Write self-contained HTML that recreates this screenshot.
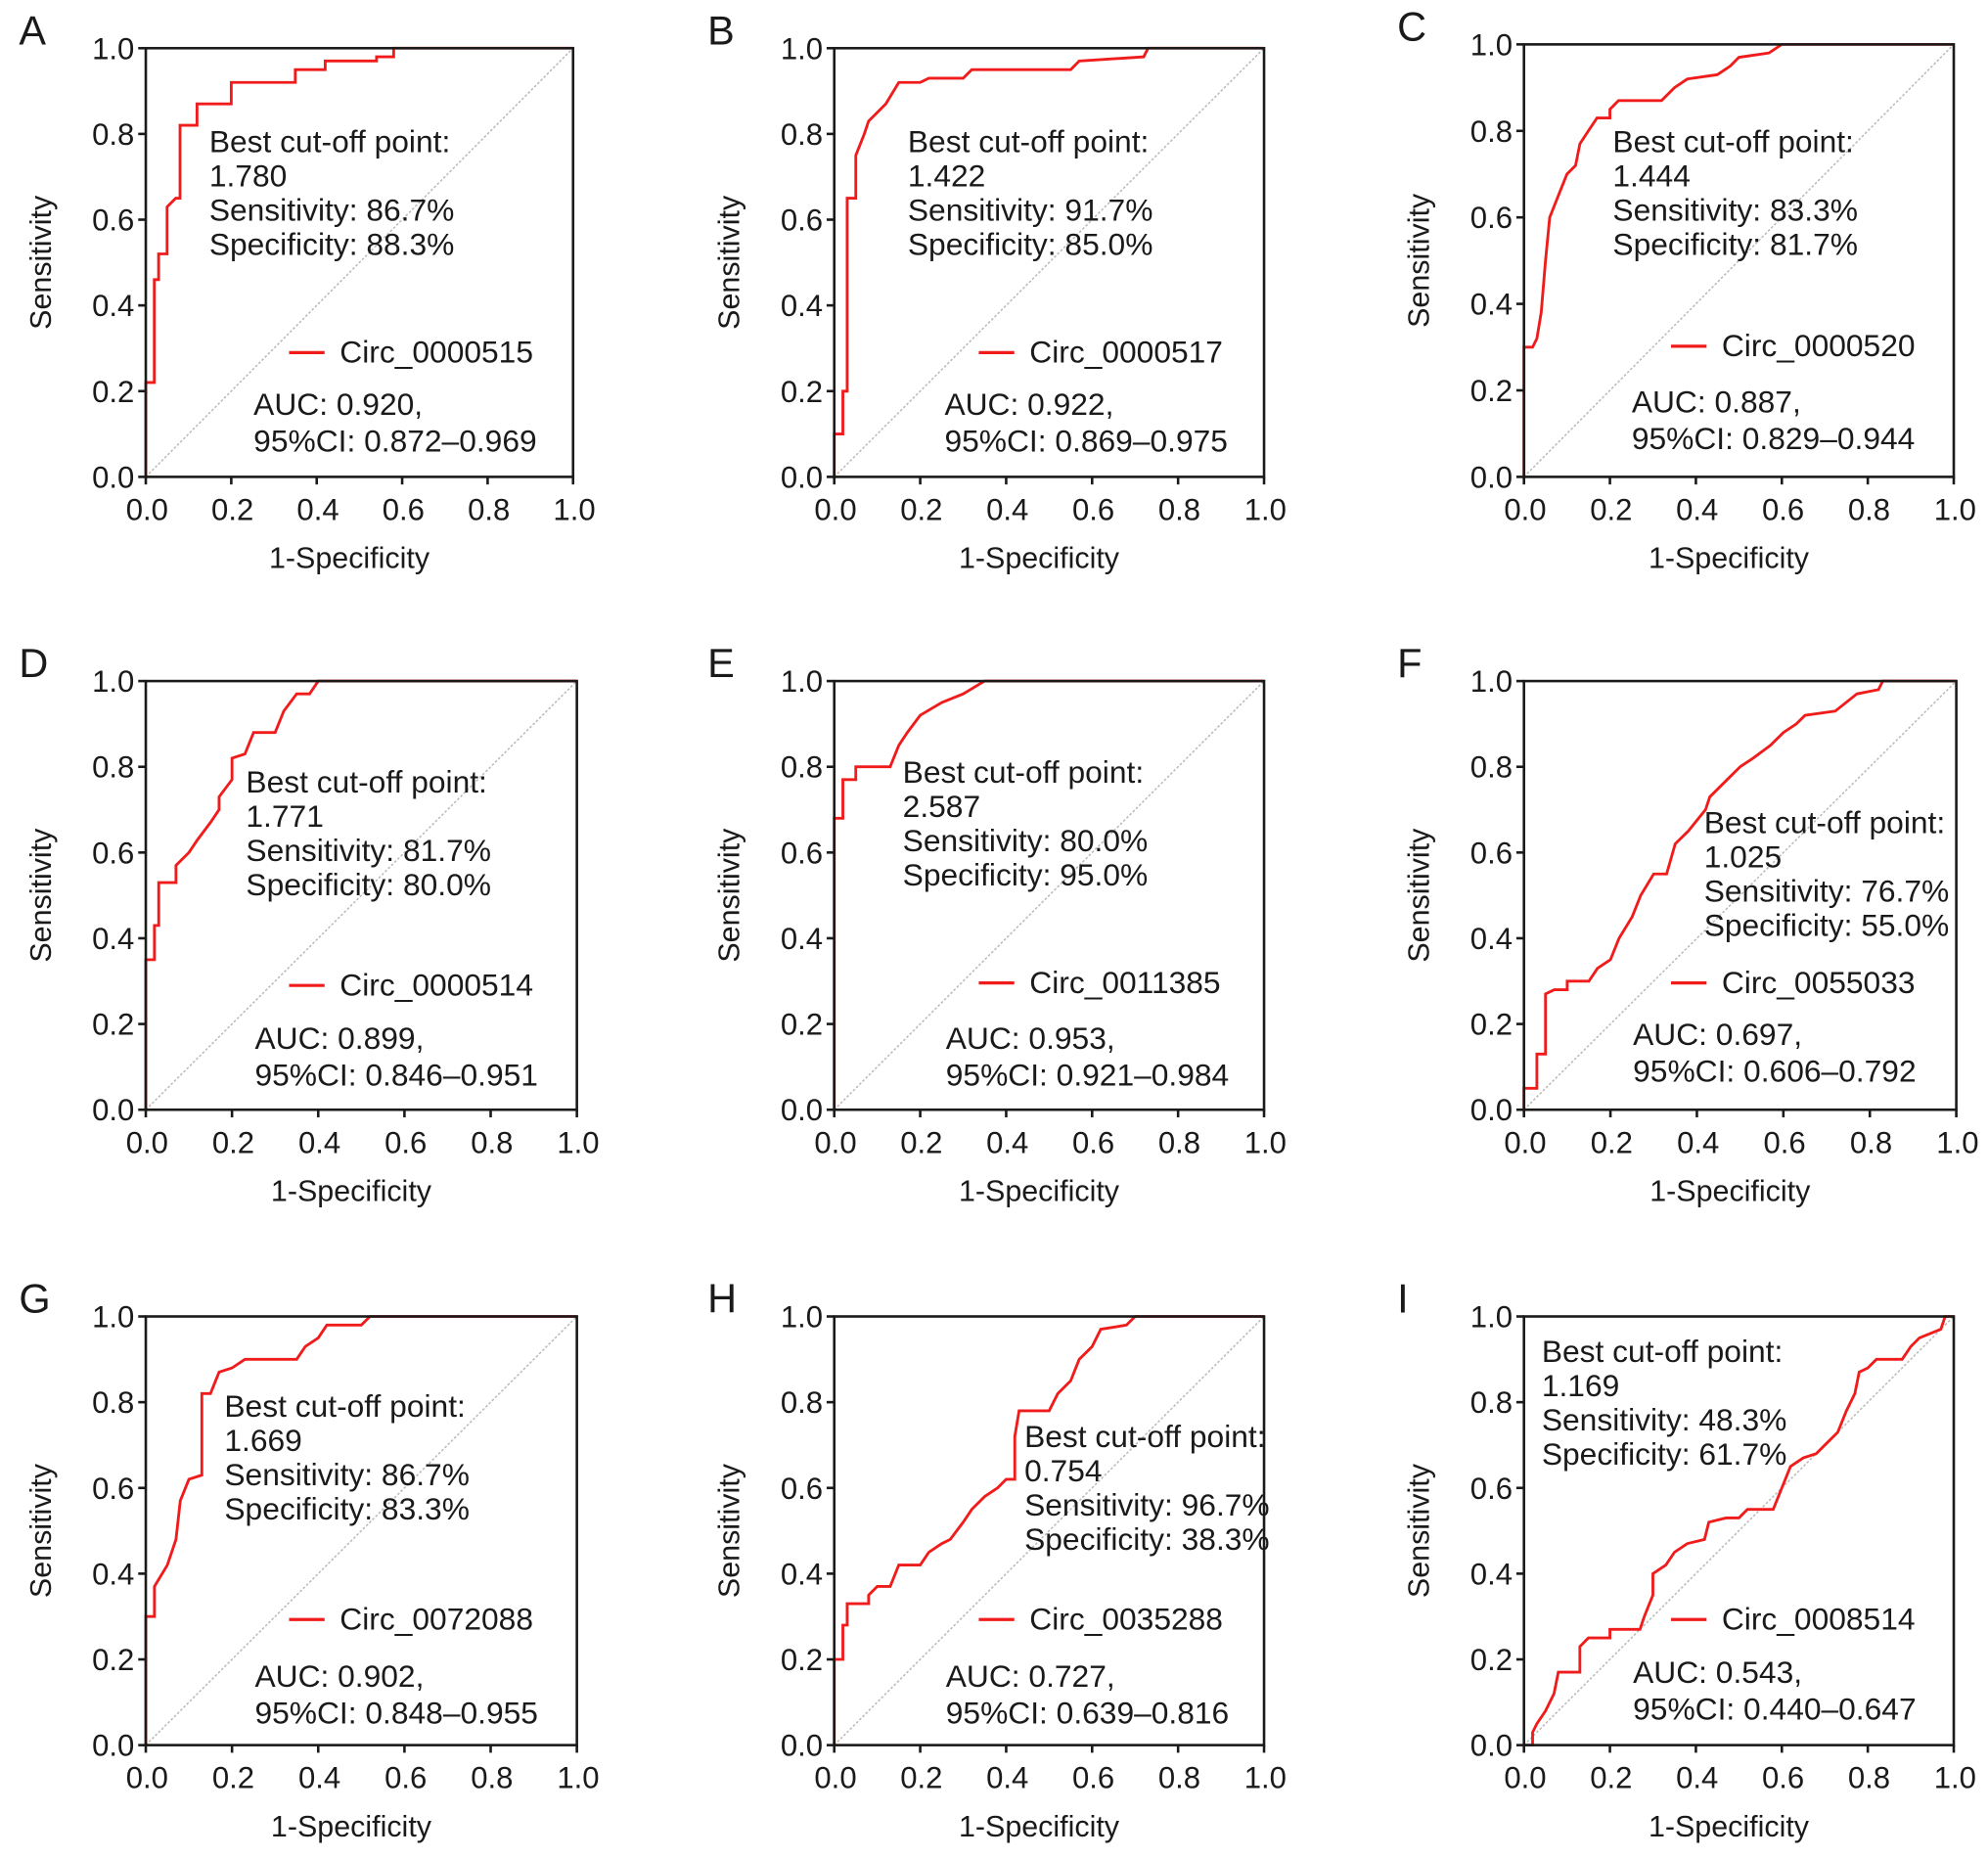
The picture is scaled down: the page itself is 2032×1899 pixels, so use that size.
<!DOCTYPE html>
<html><head><meta charset="utf-8"><style>
html,body{margin:0;padding:0;background:#fff}
svg{display:block}
text{font-family:"Liberation Sans",Arial,sans-serif;fill:#1a1a1a}
</style></head><body>
<svg id="fig" width="2032" height="1899" viewBox="0 0 1568 1465" preserveAspectRatio="none" xmlns="http://www.w3.org/2000/svg"></svg>
<script>
const panelLetters=["A","B","C","D","E","F","G","H","I"];
const seriesNames=["Circ_0000515","Circ_0000517","Circ_0000520","Circ_0000514","Circ_0011385","Circ_0055033","Circ_0072088","Circ_0035288","Circ_0008514"];
const cutoffs=["1.780","1.422","1.444","1.771","2.587","1.025","1.669","0.754","1.169"];
const sensTexts=["86.7%","91.7%","83.3%","81.7%","80.0%","76.7%","86.7%","96.7%","48.3%"];
const specTexts=["88.3%","85.0%","81.7%","80.0%","95.0%","55.0%","83.3%","38.3%","61.7%"];
const aucTexts=["0.920","0.922","0.887","0.899","0.953","0.697","0.902","0.727","0.543"];
const ciTexts=["0.872–0.969","0.869–0.975","0.829–0.944","0.846–0.951","0.921–0.984","0.606–0.792","0.848–0.955","0.639–0.816","0.440–0.647"];
const tickLabels=["0.0","0.2","0.4","0.6","0.8","1.0"];
const tickValues=[0,0.2,0.4,0.6,0.8,1.0];
const fprA=[0,0,0.02,0.02,0.03,0.03,0.05,0.05,0.07,0.08,0.08,0.12,0.12,0.2,0.2,0.35,0.35,0.42,0.42,0.54,0.54,0.58,0.58,1];
const tprA=[0,0.22,0.22,0.46,0.46,0.52,0.52,0.63,0.65,0.65,0.82,0.82,0.87,0.87,0.92,0.92,0.95,0.95,0.97,0.97,0.98,0.98,1,1];
const fprB=[0,0,0.02,0.02,0.03,0.03,0.05,0.05,0.07,0.08,0.1,0.12,0.15,0.2,0.22,0.3,0.32,0.55,0.57,0.72,0.73,1];
const tprB=[0,0.1,0.1,0.2,0.2,0.65,0.65,0.75,0.8,0.83,0.85,0.87,0.92,0.92,0.93,0.93,0.95,0.95,0.97,0.98,1,1];
const fprC=[0,0,0.02,0.03,0.04,0.05,0.06,0.08,0.1,0.12,0.13,0.15,0.17,0.2,0.2,0.22,0.32,0.35,0.38,0.45,0.48,0.5,0.57,0.6,1];
const tprC=[0,0.3,0.3,0.32,0.38,0.5,0.6,0.65,0.7,0.72,0.77,0.8,0.83,0.83,0.85,0.87,0.87,0.9,0.92,0.93,0.95,0.97,0.98,1,1];
const fprD=[0,0,0.02,0.02,0.03,0.03,0.07,0.07,0.1,0.12,0.15,0.17,0.17,0.2,0.2,0.23,0.25,0.3,0.32,0.35,0.38,0.4,1];
const tprD=[0,0.35,0.35,0.43,0.43,0.53,0.53,0.57,0.6,0.63,0.67,0.7,0.73,0.77,0.82,0.83,0.88,0.88,0.93,0.97,0.97,1,1];
const fprE=[0,0,0.02,0.02,0.05,0.05,0.13,0.15,0.17,0.2,0.25,0.3,0.35,1];
const tprE=[0,0.68,0.68,0.77,0.77,0.8,0.8,0.85,0.88,0.92,0.95,0.97,1,1];
const fprF=[0,0,0.03,0.03,0.05,0.05,0.07,0.1,0.1,0.15,0.17,0.2,0.22,0.25,0.27,0.3,0.33,0.35,0.38,0.42,0.43,0.47,0.5,0.53,0.57,0.6,0.63,0.65,0.72,0.77,0.82,0.83,1];
const tprF=[0,0.05,0.05,0.13,0.13,0.27,0.28,0.28,0.3,0.3,0.33,0.35,0.4,0.45,0.5,0.55,0.55,0.62,0.65,0.7,0.73,0.77,0.8,0.82,0.85,0.88,0.9,0.92,0.93,0.97,0.98,1,1];
const fprG=[0,0,0.02,0.02,0.05,0.07,0.08,0.1,0.13,0.13,0.15,0.17,0.2,0.23,0.35,0.37,0.4,0.42,0.5,0.52,1];
const tprG=[0,0.3,0.3,0.37,0.42,0.48,0.57,0.62,0.63,0.82,0.82,0.87,0.88,0.9,0.9,0.93,0.95,0.98,0.98,1,1];
const fprH=[0,0,0.02,0.02,0.03,0.03,0.08,0.08,0.1,0.13,0.15,0.2,0.22,0.25,0.27,0.3,0.32,0.35,0.38,0.4,0.42,0.42,0.43,0.5,0.52,0.55,0.57,0.6,0.62,0.68,0.7,1];
const tprH=[0,0.2,0.2,0.28,0.28,0.33,0.33,0.35,0.37,0.37,0.42,0.42,0.45,0.47,0.48,0.52,0.55,0.58,0.6,0.62,0.62,0.72,0.78,0.78,0.82,0.85,0.9,0.93,0.97,0.98,1,1];
const fprI=[0,0.02,0.02,0.03,0.05,0.07,0.08,0.13,0.13,0.15,0.2,0.2,0.27,0.28,0.3,0.3,0.33,0.35,0.38,0.42,0.43,0.47,0.5,0.52,0.58,0.6,0.62,0.65,0.68,0.7,0.73,0.75,0.77,0.78,0.8,0.82,0.88,0.9,0.92,0.97,0.98,1];
const tprI=[0,0,0.03,0.05,0.08,0.12,0.17,0.17,0.23,0.25,0.25,0.27,0.27,0.3,0.35,0.4,0.42,0.45,0.47,0.48,0.52,0.53,0.53,0.55,0.55,0.6,0.65,0.67,0.68,0.7,0.73,0.78,0.82,0.87,0.88,0.9,0.9,0.93,0.95,0.97,1,1];
const fprs=[fprA,fprB,fprC,fprD,fprE,fprF,fprG,fprH,fprI];
const tprs=[tprA,tprB,tprC,tprD,tprE,tprF,tprG,tprH,tprI];

const frames=[[115,38,452,376],[658,38,997,376],[1202,35,1541,376],[115,537,455,875],[658,537,997,875],[1202,537,1543,875],[115,1038,455,1376],[658,1038,997,1376],[1202,1038,1541,1376]];
const bestPos=[[165,120],[716,120],[1272,120],[194,625],[712,617],[1344,657],[177,1117],[808,1141],[1216,1074]];
const legPos=[[228,278],[772,278],[1318,273],[228,777],[772,775],[1318,775],[228,1277],[772,1277],[1318,1277]];
const aucPos=[[200,327],[745,327],[1287,325],[201,827],[746,827],[1288,824],[201,1330],[746,1330],[1288,1327]];
const NS="http://www.w3.org/2000/svg";
const svg=document.getElementById('fig');
function mk(tag,attrs,parent){const e=document.createElementNS(NS,tag);for(const k in attrs)e.setAttribute(k,attrs[k]);parent.appendChild(e);return e;}
function txt(parent,x,y,s,size,anchor){const t=mk('text',{x:x,y:y,'font-size':size,'text-anchor':anchor||'start'},parent);t.textContent=s;return t;}
for(let p=0;p<9;p++){
  const [x0,y0,x1,y1]=frames[p];
  const xs=v=>x0+v*(x1-x0), ys=v=>y1-v*(y1-y0);
  const g=mk('g',{},svg);
  
  
  const L=txt(g,x0-100,y0-3,panelLetters[p],32);
  
  
  const diag=mk('line',{x1:xs(0),y1:ys(0),x2:xs(1),y2:ys(1),stroke:'#bbb','stroke-width':1.2,'stroke-dasharray':'2,1.5'},g);
  
  
  const pts=fprs[p].map((f,i)=>xs(f).toFixed(1)+','+ys(tprs[p][i]).toFixed(1)).join(' ');
  const c=mk('polyline',{points:pts,fill:'none',stroke:'#f01c1c','stroke-width':2.2},g);
  
  
  const fr=mk('rect',{x:x0,y:y0,width:x1-x0,height:y1-y0,fill:'none',stroke:'#1a1a1a','stroke-width':2},g);
  
  
  tickValues.forEach((v,i)=>{
    mk('line',{x1:x0-6,y1:ys(v),x2:x0,y2:ys(v),stroke:'#1a1a1a','stroke-width':2},g);
    mk('line',{x1:xs(v),y1:y1,x2:xs(v),y2:y1+6,stroke:'#1a1a1a','stroke-width':2},g);
    const ty=txt(g,x0-9,ys(v)+8.5,tickLabels[i],24,'end');
    
    
    const tx=txt(g,xs(v)+1,y1+34,tickLabels[i],24,'middle');
    
    
  });
  const xt=txt(g,(x0+x1)/2-8,y1+72,'1-Specificity',23.5,'middle');
  
  
  const yt=txt(g,0,0,'Sensitivity',23.5,'middle');
  yt.setAttribute('transform','translate('+(x0-75)+','+((y0+y1)/2)+') rotate(-90)');
  
  
  const [bx,by]=bestPos[p];
  const lines=['Best cut-off point:',cutoffs[p],'Sensitivity: '+sensTexts[p],'Specificity: '+specTexts[p]];
  lines.forEach((s,i)=>{const t=txt(g,bx,by+i*27,s,24.5);
    
    });
  const [lx,ly]=legPos[p];
  const ll=mk('line',{x1:lx,y1:ly,x2:lx+28,y2:ly,stroke:'#f01c1c','stroke-width':2.5},g);
  
  
  const lt=txt(g,lx+40,ly+8,seriesNames[p],24.5);
  
  
  const [ax,ay]=aucPos[p];
  const a1=txt(g,ax,ay,'AUC: '+aucTexts[p]+',',24.5);
  
  
  const a2=txt(g,ax,ay+29,'95%CI: '+ciTexts[p],24.5);
  
  
}
</script>
</body></html>
